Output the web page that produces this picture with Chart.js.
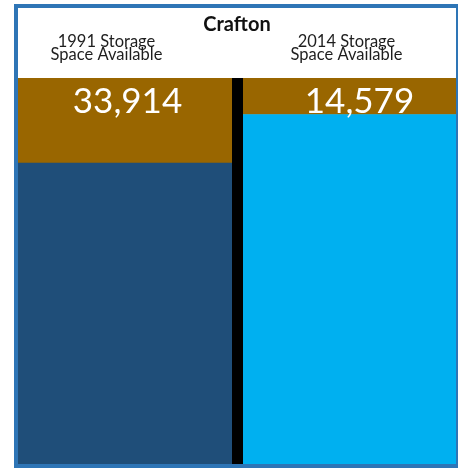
<!DOCTYPE html>
<html>
<head>
<meta charset="utf-8">
<script src="https://cdn.jsdelivr.net/npm/chart.js@4.4.1/dist/chart.umd.min.js"></script>
<style>
  html, body { margin: 0; padding: 0; background: #ffffff; }
  body { width: 458px; height: 468px; overflow: hidden; position: relative; }
  #frame {
    position: absolute; left: 14px; top: 4px; width: 446px; height: 464px;
    box-sizing: border-box; border: 4px solid #2e75b6; background: #ffffff;
  }
  #wrap { position: absolute; left: 0; top: 0; width: 438px; height: 456px; }
</style>
</head>
<body>
<div id="frame"><div id="wrap"><canvas id="c" width="438" height="456"></canvas></div></div>
<script>
// ---- data ----
const chartTitle = 'Crafton';
const categories = ['1991', '2014'];
const columnLabels = [['1991 Storage', 'Space Available'], ['2014 Storage', 'Space Available']];
const storageAvailable = [33914, 14579];     // brown (top) segment
const otherVolume = [120086, 139421];         // blue (bottom) segment
const valueLabels = ['33,914', '14,579'];
const axisMax = 154000;

const labelPlugin = {
  id: 'labelPlugin',
  afterDraw(chart) {
    const ctx = chart.ctx;
    const meta = chart.getDatasetMeta(1);
    const colOffsets = [-21, 0];
    const valOffsets = [0, 13];
    ctx.save();
    ctx.textAlign = 'center';
    ctx.textBaseline = 'alphabetic';
    meta.data.forEach((bar, i) => {
      // column captions
      ctx.fillStyle = '#1e1e1e';
      ctx.font = '16.5px Lato';
      const lines = columnLabels[i];
      lines.forEach((ln, j) => {
        ctx.fillText(ln, bar.x + colOffsets[i], 38.5 + j * 13.3);
      });
      // values
      ctx.fillStyle = '#ffffff';
      ctx.font = '35px Lato';
      ctx.fillText(valueLabels[i], bar.x + valOffsets[i], chart.chartArea.top + 35);
    });
    ctx.restore();
  }
};

new Chart(document.getElementById('c'), {
  type: 'bar',
  data: {
    labels: categories,
    datasets: [
      {
        label: 'Volume',
        data: otherVolume,
        backgroundColor: ['#1f4e79', '#00b0f0'],
        borderWidth: 0,
        categoryPercentage: 1,
        barPercentage: 1
      },
      {
        label: 'Storage Space Available',
        data: storageAvailable,
        backgroundColor: '#996600',
        borderWidth: 0,
        categoryPercentage: 1,
        barPercentage: 1
      }
    ]
  },
  options: {
    responsive: false,
    animation: false,
    devicePixelRatio: 1,
    layout: { padding: 0 },
    plugins: {
      legend: { display: false },
      tooltip: { enabled: false },
      title: {
        display: true,
        text: chartTitle,
        color: '#111111',
        font: { family: 'Lato', size: 20, weight: 'bold', lineHeight: 1.2 },
        padding: { top: 5, bottom: 41 }
      }
    },
    scales: {
      x: {
        stacked: true,
        display: true,
        offset: true,
        border: { display: false },
        ticks: { display: false },
        grid: {
          offset: true,
          z: 1,
          drawTicks: false,
          lineWidth: 11,
          color: (c) => (c.index === 1 ? '#000000' : 'rgba(0,0,0,0)')
        }
      },
      y: {
        stacked: true,
        display: false,
        min: 0,
        max: axisMax
      }
    }
  },
  plugins: [labelPlugin]
});
</script>
</body>
</html>
